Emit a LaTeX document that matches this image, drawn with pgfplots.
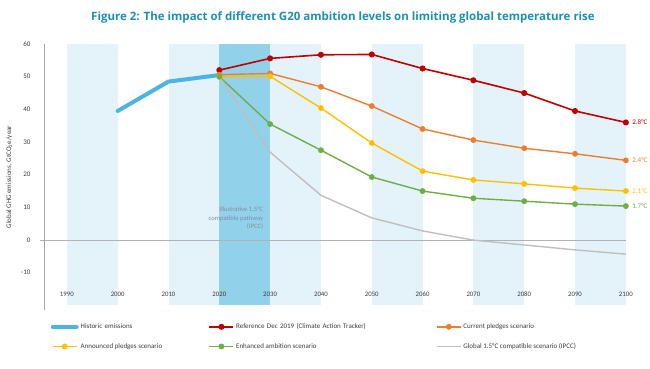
\documentclass[border=0pt]{standalone}
\usepackage{pgfplots}
\pgfplotsset{compat=1.18}
\usepackage{fontspec}
\setmainfont{Carlito}
\newfontfamily\titlefont{Open Sans}
\definecolor{titleblue}{RGB}{31,143,176}
\definecolor{histblue}{RGB}{77,179,230}
\definecolor{refred}{RGB}{192,0,0}
\definecolor{curorange}{RGB}{237,125,49}
\definecolor{annyellow}{RGB}{255,192,0}
\definecolor{enhgreen}{RGB}{112,173,71}
\definecolor{ipccgrey}{RGB}{191,191,191}
\definecolor{bandlight}{RGB}{228,243,250}
\definecolor{banddark}{RGB}{146,209,234}
\definecolor{illtext}{RGB}{125,145,160}
\definecolor{txtgrey}{RGB}{60,60,60}
\begin{document}
\begin{tikzpicture}[x=1pt,y=1pt]
\useasboundingbox (0,0) rectangle (650,368);
\node[font=\titlefont\bfseries\fontsize{11.5}{13}\selectfont, text=titleblue] at (343,351) {Figure 2: The impact of different G20 ambition levels on limiting global temperature rise};
\begin{axis}[
  axis on top,
  at={(44pt,58pt)}, anchor=south west, scale only axis,
  width=592pt, height=266pt,
  xmin=1985.5, xmax=2102, ymin=-21.4, ymax=60,
  clip=false,
  axis lines*=left,
  x axis line style={draw=none},
  y axis line style={draw=gray!70, line width=0.6pt},
  major tick length=0,
  xtick={1990,2000,...,2100},
  ytick={-10,0,...,60},
  xticklabel style={font=\fontsize{6.8}{7}\selectfont, text=txtgrey, anchor=center, yshift=16pt},
  yticklabel style={font=\fontsize{7}{8}\selectfont, text=txtgrey, xshift=-10pt},
  /pgf/number format/assume math mode=true,
  /pgf/number format/1000 sep={},
  ylabel={Global GHG emissions, GtCO\textsubscript{2}e/year},
  ylabel style={font=\fontsize{7}{8}\selectfont, text=txtgrey, yshift=2pt},
  legend columns=3,
  legend style={at={(0.006,-0.035)}, anchor=north west, draw=none, fill=none,
    font=\fontsize{7}{8}\selectfont, text=txtgrey, row sep=9pt,
    nodes={anchor=west}},
  legend cell align=left,
  legend image code/.code={\draw[mark repeat=2,mark phase=2] plot coordinates {(0cm,0cm)(0.42cm,0cm)(0.84cm,0cm)};},
]
% background bands
\addplot[fill=bandlight, draw=none, forget plot] coordinates {(1990,-19.8) (2000,-19.8) (2000,60) (1990,60)} -- cycle;
\addplot[fill=bandlight, draw=none, forget plot] coordinates {(2010,-19.8) (2020,-19.8) (2020,60) (2010,60)} -- cycle;
\addplot[fill=banddark, draw=none, forget plot] coordinates {(2020,-19.8) (2030,-19.8) (2030,60) (2020,60)} -- cycle;
\addplot[fill=bandlight, draw=none, forget plot] coordinates {(2030,-19.8) (2040,-19.8) (2040,60) (2030,60)} -- cycle;
\addplot[fill=bandlight, draw=none, forget plot] coordinates {(2050,-19.8) (2060,-19.8) (2060,60) (2050,60)} -- cycle;
\addplot[fill=bandlight, draw=none, forget plot] coordinates {(2070,-19.8) (2080,-19.8) (2080,60) (2070,60)} -- cycle;
\addplot[fill=bandlight, draw=none, forget plot] coordinates {(2090,-19.8) (2100,-19.8) (2100,60) (2090,60)} -- cycle;
% zero line
\addplot[gray!60, line width=0.5pt, forget plot] coordinates {(1984.7,0) (2100,0)};
\node[anchor=north east, align=right, font=\fontsize{6.6}{8.5}\selectfont, text=illtext] at (axis cs:2029.3,11.2) {Illustrative 1.5\textdegree C\\compatible pathway\\(IPCC)};
% series
\addplot[histblue, line width=4pt, line cap=round] coordinates {(2000,39.5) (2010,48.5) (2020,50.5)};
\addlegendentry[text width=126pt]{Historic emissions}
\addplot[refred, line width=1.6pt, mark=*, mark size=2.2pt] coordinates {(2020,52) (2030,55.6) (2040,56.7) (2050,56.8) (2060,52.5) (2070,48.9) (2080,45) (2090,39.5) (2100,36)};
\addlegendentry[text width=198pt]{Reference Dec 2019 (Climate Action Tracker)}
\addplot[curorange, line width=1.4pt, mark=*, mark size=2.2pt] coordinates {(2020,50.6) (2030,51) (2040,46.9) (2050,41) (2060,34) (2070,30.6) (2080,28.1) (2090,26.4) (2100,24.4)};
\addlegendentry{Current pledges scenario}
\addplot[annyellow, line width=1.4pt, mark=*, mark size=2.2pt] coordinates {(2020,50) (2030,50.1) (2040,40.4) (2050,29.7) (2060,21.1) (2070,18.4) (2080,17.2) (2090,15.9) (2100,15)};
\addlegendentry{Announced pledges scenario}
\addplot[enhgreen, line width=1.4pt, mark=*, mark size=2.2pt] coordinates {(2020,50) (2030,35.5) (2040,27.5) (2050,19.3) (2060,15) (2070,12.8) (2080,11.9) (2090,11) (2100,10.4)};
\addlegendentry{Enhanced ambition scenario}
\addplot[ipccgrey, line width=1.4pt] coordinates {(2020,50) (2030,26.9) (2040,13.7) (2050,6.8) (2060,2.8) (2070,0) (2080,-1.5) (2090,-3) (2100,-4.3)};
\addlegendentry{Global 1.5\textdegree C compatible scenario (IPCC)}
% end labels
\node[anchor=west, font=\fontsize{7}{8}\selectfont, text=refred] at (axis cs:2100.6,36) {2.8\textdegree C};
\node[anchor=west, font=\fontsize{7}{8}\selectfont, text=curorange] at (axis cs:2100.6,24.4) {2.4\textdegree C};
\node[anchor=west, font=\fontsize{7}{8}\selectfont, text=annyellow] at (axis cs:2100.6,15) {2.1\textdegree C};
\node[anchor=west, font=\fontsize{7}{8}\selectfont, text=enhgreen] at (axis cs:2100.6,10.4) {1.7\textdegree C};
\end{axis}
\end{tikzpicture}
\end{document}
